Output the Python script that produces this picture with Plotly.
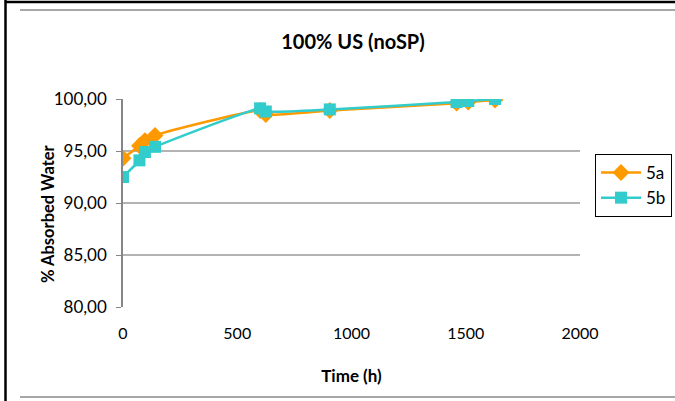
import plotly.graph_objects as go

# ---- data ----
time_5a = [0, 72, 96, 140, 600, 625, 905, 1460, 1511, 1628]
water_5a = [94.3, 95.5, 96.0, 96.5, 98.9, 98.5, 98.9, 99.6, 99.7, 99.9]
time_5b = [0, 72, 96, 140, 600, 625, 905, 1460, 1511, 1628]
water_5b = [92.5, 94.1, 94.9, 95.4, 99.1, 98.8, 99.0, 99.7, 99.8, 100.0]
y_ticks = [80, 85, 90, 95, 100]
y_tick_labels = ["80,00", "85,00", "90,00", "95,00", "100,00"]
x_ticks = [0, 500, 1000, 1500, 2000]
x_tick_labels = ["0", "500", "1000", "1500", "2000"]

FONT = "Lato"
W, H = 675, 401
L, R, T, B = 123, 580, 99, 307  # plot area pixels

def px(x):
    return (x - L) / (R - L)

def py(y):
    return (B - y) / (B - T)

fig = go.Figure()
fig.add_trace(go.Scatter(
    x=time_5a, y=water_5a, name="5a", mode="lines+markers",
    line=dict(color="#FF9900", width=2.5, shape="spline", smoothing=0.5),
    marker=dict(symbol="diamond", size=13, color="#FF9900"),
))
fig.add_trace(go.Scatter(
    x=time_5b, y=water_5b, name="5b", mode="lines+markers",
    line=dict(color="#33CCCC", width=2.5, shape="spline", smoothing=0.5),
    marker=dict(symbol="square", size=12, color="#33CCCC"),
))

shapes = [
    dict(type="line", xref="paper", yref="paper", x0=px(5.5), x1=px(5.5), y0=py(0), y1=py(401),
         line=dict(color="black", width=2.5)),
    dict(type="line", xref="paper", yref="paper", x0=px(5), x1=px(675), y0=py(2), y1=py(2),
         line=dict(color="black", width=2.5)),
    dict(type="line", xref="paper", yref="paper", x0=px(20), x1=px(675), y0=py(10), y1=py(10),
         line=dict(color="#A6A6A6", width=2)),
    dict(type="line", xref="paper", yref="paper", x0=px(20), x1=px(675), y0=py(397), y1=py(397),
         line=dict(color="#A6A6A6", width=2)),
]

annotations = [
    dict(text="<b>% Absorbed Water</b>", textangle=-90, xref="paper", yref="paper",
         x=px(48), y=py(214), xanchor="center", yanchor="middle", showarrow=False,
         font=dict(size=16.5)),
]

fig.update_layout(
    width=W, height=H,
    margin=dict(l=L, r=W - R, t=T, b=H - B, pad=0, autoexpand=False),
    paper_bgcolor="white", plot_bgcolor="white",
    font=dict(family=FONT, size=16, color="black"),
    title=dict(text="<b>100% US (noSP)</b>", xref="container", x=353 / W, xanchor="center",
               yref="container", y=1 - 42 / H, yanchor="middle", font=dict(size=20)),
    shapes=shapes,
    annotations=annotations,
    showlegend=True,
    legend=dict(x=px(595), y=py(154), xanchor="left", yanchor="top",
                bordercolor="black", borderwidth=1, bgcolor="white", itemwidth=40,
                font=dict(size=17), tracegroupgap=4),
    xaxis=dict(range=[0, 2000], tickvals=x_ticks, ticktext=x_tick_labels,
               showgrid=False, zeroline=False, showline=False,
               ticks="outside", ticklen=12, tickcolor="rgba(0,0,0,0)",
               title=dict(text="<b>Time (h)</b>", font=dict(size=17), standoff=28)),
    yaxis=dict(range=[80, 100], tickvals=y_ticks, ticktext=y_tick_labels,
               showgrid=True, gridcolor="#B3B3B3", gridwidth=1.5, zeroline=False,
               showline=True, linecolor="#868686", linewidth=1.5,
               ticks="outside", ticklen=5, tickcolor="#868686", ticklabelstandoff=6,
               tickfont=dict(size=17)),
)

fig.write_html("out.html", post_script="document.body.style.margin='0';",
               config={"displayModeBar": False})
